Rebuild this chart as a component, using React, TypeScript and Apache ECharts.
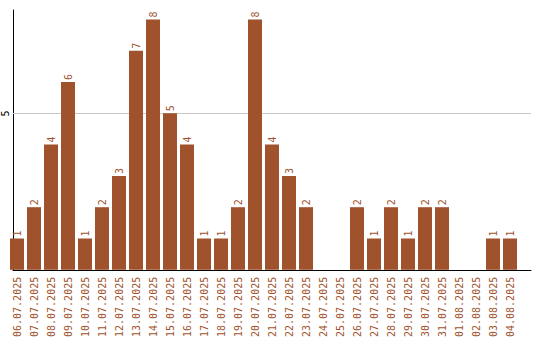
import React, { useEffect, useRef } from "react";
import * as echarts from "echarts";

const categories = [
  "06.07.2025", "07.07.2025", "08.07.2025", "09.07.2025", "10.07.2025",
  "11.07.2025", "12.07.2025", "13.07.2025", "14.07.2025", "15.07.2025",
  "16.07.2025", "17.07.2025", "18.07.2025", "19.07.2025", "20.07.2025",
  "21.07.2025", "22.07.2025", "23.07.2025", "24.07.2025", "25.07.2025",
  "26.07.2025", "27.07.2025", "28.07.2025", "29.07.2025", "30.07.2025",
  "31.07.2025", "01.08.2025", "02.08.2025", "03.08.2025", "04.08.2025",
];
const counts = [1, 2, 4, 6, 1, 2, 3, 7, 8, 5, 4, 1, 1, 2, 8, 4, 3, 2, 0, 0, 2, 1, 2, 1, 2, 2, 0, 0, 1, 1];
const yMax = 8.3;
const yInterval = 5;
const gridValues = [5];

const BAR = "#a0522d";
const FONT = "DejaVu Sans Mono";

export default function App() {
  const ref = useRef<HTMLDivElement>(null);
  useEffect(() => {
    if (!ref.current) return;
    const chart = echarts.init(ref.current, undefined, { renderer: "svg" });
    chart.setOption({
      animation: false,
      grid: [
        { left: 8.5, width: 510, top: 10, bottom: 70 },
        { left: 10, right: 9, top: 10, bottom: 70 },
      ],
      xAxis: [
        {
          type: "category",
          gridIndex: 0,
          data: categories,
          axisLine: { show: false },
          axisTick: { show: false },
          axisLabel: {
            rotate: 90,
            interval: 0,
            margin: 7,
            color: BAR,
            fontFamily: FONT,
            fontSize: 10,
          },
        },
        {
          type: "value",
          gridIndex: 1,
          min: 0,
          max: 1,
          axisLine: { show: true, lineStyle: { color: "#000", width: 1 } },
          axisTick: { show: false },
          axisLabel: { show: false },
          splitLine: { show: false },
        },
      ],
      yAxis: [
        {
          type: "value",
          gridIndex: 0,
          min: 0,
          max: yMax,
          show: false,
        },
        {
          type: "value",
          gridIndex: 1,
          min: 0,
          max: yMax,
          interval: yInterval,
          axisLine: { show: true, lineStyle: { color: "#000", width: 1 } },
          axisTick: { show: false },
          splitLine: { show: false },
          axisLabel: {
            rotate: 90,
            margin: 3,
            color: "#000",
            fontFamily: FONT,
            fontSize: 10,
            showMaxLabel: false,
            formatter: (v: number) => (v === 0 || v % yInterval !== 0 ? "" : String(v)),
          },
        },
      ],
      series: [
        {
          type: "line",
          xAxisIndex: 1,
          yAxisIndex: 1,
          data: [],
          silent: true,
          markLine: {
            silent: true,
            symbol: "none",
            label: { show: false },
            lineStyle: { color: "#c8c8c8", width: 1, type: "solid" },
            data: gridValues.map((v) => ({ yAxis: v })),
          },
        },
        {
          type: "bar",
          xAxisIndex: 0,
          yAxisIndex: 0,
          data: counts,
          barWidth: 14,
          z: 5,
          itemStyle: { color: BAR },
          label: {
            show: true,
            position: "top",
            rotate: 90,
            align: "left",
            verticalAlign: "middle",
            distance: 2,
            color: BAR,
            fontFamily: FONT,
            fontSize: 10,
            formatter: (p: any) => (p.value ? String(p.value) : ""),
          },
        },
      ],
    });
    return () => chart.dispose();
  }, []);
  return (
    <div
      ref={ref}
      style={{ position: "fixed", left: 0, top: 0, width: 540, height: 340, background: "#fff" }}
    />
  );
}
